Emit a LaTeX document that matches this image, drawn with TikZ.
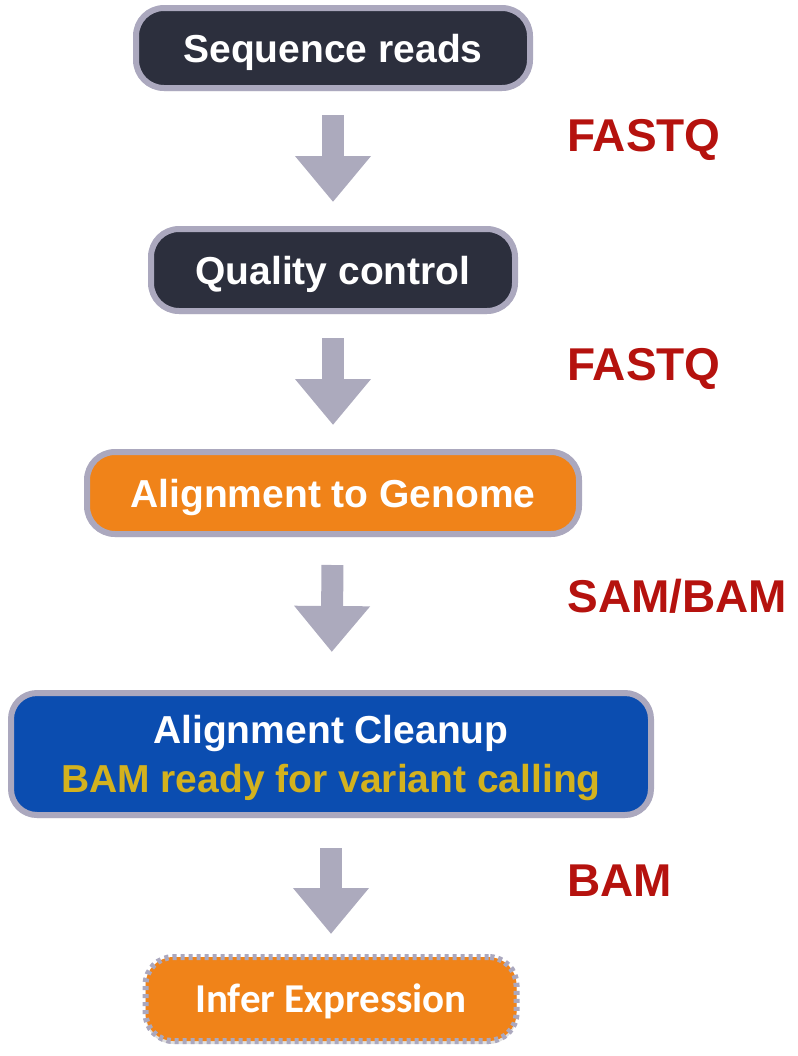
\documentclass[tikz,border=0pt]{standalone}
\usepackage{fontspec}
\setmainfont{Liberation Sans}
\newfontfamily\calibri{Carlito}
\usetikzlibrary{arrows.meta,shadows}

\definecolor{boxdark}{HTML}{2C2F3D}
\definecolor{boxrim}{HTML}{ABA8BE}
\definecolor{boxorange}{HTML}{F08319}
\definecolor{boxblue}{HTML}{0B4DB0}
\definecolor{textgold}{HTML}{D3B21E}
\definecolor{formatred}{HTML}{B5120E}
\definecolor{flowgrey}{HTML}{ACAABD}

\begin{document}
\begin{tikzpicture}[x=0.5pt, y=-0.5pt]
\useasboundingbox (0,0) rectangle (798,1056);

\begin{scope}[every node/.style={rectangle, rounded corners=14pt, draw=boxrim, line width=3pt, text=white, align=center,
    text height=14pt, text depth=0pt,
    font=\bfseries\fontsize{19.5}{24.5}\selectfont,
    drop shadow={shadow xshift=0pt, shadow yshift=-1.5pt, opacity=0.25}}]
    \node[fill=boxdark, minimum width=197pt, minimum height=40pt] (reads) at (333,48) {Sequence reads};
    \node[fill=boxdark, minimum width=182pt, minimum height=41pt] (qc) at (333,270) {Quality control};
    \node[fill=boxorange, minimum width=246pt, minimum height=41pt] (align) at (333,493) {Alignment to Genome};
    \node[fill=boxblue, minimum width=320pt, minimum height=61pt, rounded corners=13pt, text height=38.5pt] (cleanup) at (331,754)
        {Alignment Cleanup\\\textcolor{textgold}{BAM ready for variant calling}};
    \node[fill=boxorange, minimum width=185.5pt, minimum height=42pt, line width=3pt, dash pattern=on 2pt off 2pt,
        text height=13pt, font=\calibri\bfseries\fontsize{20.5}{24}\selectfont] (infer) at (331,999) {Infer Expression};
\end{scope}

\begin{scope}[every node/.style={anchor=base west, inner sep=0pt, text=formatred, font=\bfseries\fontsize{23}{27}\selectfont}]
    \node (fmt0) at (567,151) {FASTQ};
    \node (fmt1) at (567,380) {FASTQ};
    \node (fmt2) at (567,612) {SAM/BAM};
    \node (fmt3) at (567,896) {BAM};
\end{scope}

\begin{scope}[draw=flowgrey, line width=11pt, -{Triangle[width=36.5pt, length=23pt]}]
    \draw[shorten <=12pt, shorten >=12pt] (reads) -- (qc);
    \draw[shorten <=12pt, shorten >=12pt] (qc) -- (align);
    \draw[shorten <=14pt, shorten >=19pt] (align) -- (cleanup);
    \draw[shorten <=15pt, shorten >=10pt] (cleanup) -- (infer);
\end{scope}

\end{tikzpicture}
\end{document}
